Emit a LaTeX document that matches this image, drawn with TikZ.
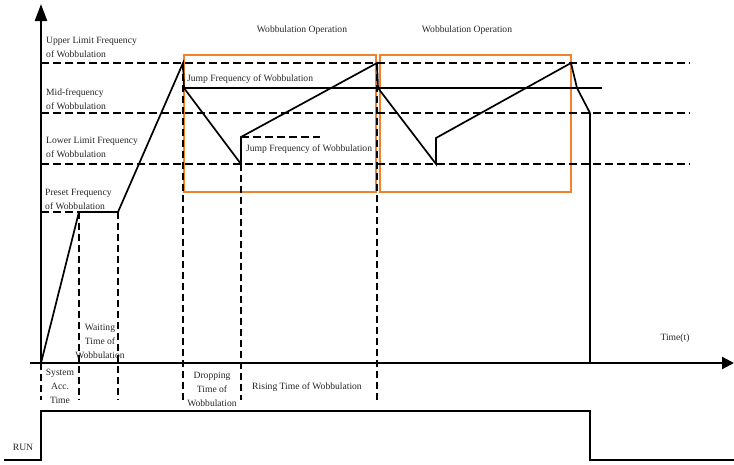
\documentclass[tikz,border=0pt]{standalone}
\usepackage{fontspec}
\setmainfont{Liberation Serif}
\usetikzlibrary{arrows.meta}
\definecolor{boxorange}{RGB}{240,130,45}
\begin{document}
\begin{tikzpicture}[x=1pt,y=-1pt,
  dline/.style={line width=2.6pt, dash pattern=on 8pt off 4pt},
  vline/.style={line width=2.5pt, dash pattern=on 7pt off 4pt},
  curveline/.style={line width=1.7pt, line join=miter},
  jline/.style={line width=1.1pt},
  axisline/.style={line width=2.2pt},
  opbox/.style={draw=boxorange, line width=1.6pt},
  lbl/.style={font=\fontsize{9.6}{14}\selectfont, inner sep=0pt, text=black!85},
  lblc/.style={lbl, align=center},
  lbll/.style={lbl, align=left, anchor=west}]
\useasboundingbox (0,0) rectangle (734,464);

% coordinates
\coordinate (O) at (41,363);
\coordinate (Ytop) at (41,4);
\coordinate (Xl) at (30,363);
\coordinate (Xr) at (734,363);
\coordinate (U0) at (41,63);   \coordinate (U1) at (690,63);
\coordinate (M0) at (41,113);  \coordinate (M1) at (690,113);
\coordinate (L0) at (41,164);  \coordinate (L1) at (690,164);
\coordinate (P0) at (41,212);
\coordinate (A) at (79,212);
\coordinate (B) at (118,212);
\coordinate (C) at (183,63);
\coordinate (D) at (184,88);
\coordinate (E) at (241,164);
\coordinate (F) at (241,137);
\coordinate (G) at (377,63);
\coordinate (H) at (378,88);
\coordinate (I) at (436,164);
\coordinate (J) at (436,138);
\coordinate (K) at (571,63);
\coordinate (Kb) at (577,88);
\coordinate (Kc) at (590,113);
\coordinate (Kd) at (590,363);
\coordinate (Jend) at (602,88);
\coordinate (Fend) at (320,137);
\coordinate (Ob) at (41,400);
\coordinate (Ab) at (79,400);
\coordinate (Bb) at (118,400);
\coordinate (Cb) at (183,400);
\coordinate (Eb) at (241,400);
\coordinate (Gb) at (377,400);
\coordinate (R0) at (4,460);
\coordinate (R1) at (41,460);
\coordinate (R2) at (41,411);
\coordinate (R3) at (590,411);
\coordinate (R4) at (590,460);
\coordinate (R5) at (734,460);

% orange boxes
\draw[opbox] (184,55) rectangle (376,192);
\draw[opbox] (380,55) rectangle (571,192);

% dashed levels
\draw[dline] (U0) -- (U1);
\draw[dline] (M0) -- (M1);
\draw[dline] (L0) -- (L1);
\draw[dline] (P0) -- (A);
\draw[dline] (F) -- (Fend);

% vertical dashed markers
\draw[vline] (O) -- (Ob);
\draw[vline] (A) -- (Ab);
\draw[vline] (B) -- (Bb);
\draw[vline] (C) -- (Cb);
\draw[vline] (E) -- (Eb);
\draw[vline] (G) -- (Gb);

% jump frequency line
\draw[jline] (D) -- (Jend);

% frequency curve
\draw[curveline] (O) -- (A) -- (B) -- (C) -- (D) -- (E) -- (F) -- (G) -- (H) -- (I) -- (J) -- (K) -- (Kb) -- (Kc);
\draw[jline] (Kc) -- (Kd);

% axes
\draw[axisline, -{Triangle[length=17pt,width=12pt]}] (O) -- (Ytop);
\draw[axisline, -{Triangle[length=12pt,width=12pt]}] (Xl) -- (Xr);

% RUN signal
\draw[line width=1.6pt] (R0) -- (R1) -- (R2) -- (R3) -- (R4) -- (R5);

% labels
\node[lbll] (tu) at (46,47) {Upper Limit Frequency\\of Wobbulation};
\node[lbll] (tm) at (46,99.5) {Mid-frequency\\of Wobbulation};
\node[lbll] (tl) at (46,147.5) {Lower Limit Frequency\\of Wobbulation};
\node[lbll] (tp) at (45,199) {Preset Frequency\\of Wobbulation};
\node[lbll] (tj1) at (187,79) {Jump Frequency of Wobbulation};
\node[lbll] (tj2) at (246,149) {Jump Frequency of Wobbulation};
\node[lblc] (wo1) at (302,30) {Wobbulation Operation};
\node[lblc] (wo2) at (467,30) {Wobbulation Operation};
\node[lblc] (tt) at (675,338) {Time(t)};
\node[lblc] (tw) at (100,341.5) {Waiting\\Time of\\Wobbulation};
\node[lblc] (ts) at (60,386.5) {System\\Acc.\\Time};
\node[lblc] (td) at (212,389) {Dropping\\Time of\\Wobbulation};
\node[lblc] (tr) at (307,387) {Rising Time of Wobbulation};
\node[lblc] (trun) at (23,447) {RUN};
\end{tikzpicture}
\end{document}
